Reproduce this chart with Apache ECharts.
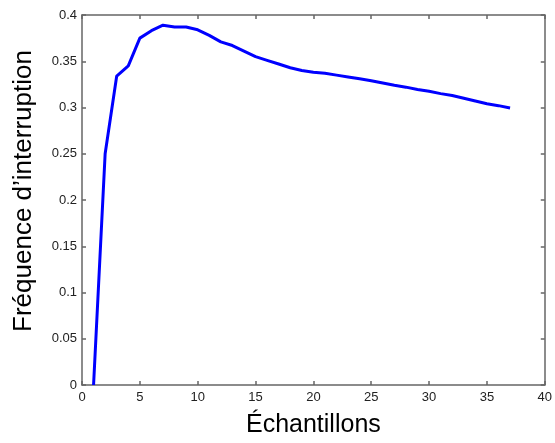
<!DOCTYPE html>
<html>
<head>
<meta charset="utf-8">
<script src="https://cdn.jsdelivr.net/npm/echarts@6/dist/echarts.min.js"></script>
<style>html,body{margin:0;padding:0;background:#fff;}#c{width:555px;height:443px;}</style>
</head>
<body>
<div id="c"></div>
<script>
var samples = [1,2,3,4,5,6,7,8,9,10,11,12,13,14,15,16,17,18,19,20,21,22,23,24,25,26,27,28,29,30,31,32,33,34,35,36,37];
var frequency = [0,0.25,0.334,0.345,0.375,0.383,0.389,0.387,0.387,0.384,0.378,0.371,0.367,0.361,0.355,0.351,0.347,0.343,0.340,0.338,0.337,0.335,0.333,0.331,0.329,0.3265,0.324,0.322,0.3195,0.3175,0.315,0.313,0.310,0.307,0.304,0.302,0.2995];
var xTicks = [0,5,10,15,20,25,30,35,40];
var yTicks = [0,0.05,0.1,0.15,0.2,0.25,0.3,0.35,0.4];
var xTitle = 'Échantillons';
var yTitle = 'Fréquence d\u2019interruption';

var chart = echarts.init(document.getElementById('c'), null, {renderer:'canvas'});
var axisCol = '#666';
var font = 'Liberation Sans, Arial, sans-serif';
function baseAxis(extra){
  return Object.assign({
    axisLine:{show:true, onZero:false, lineStyle:{color:axisCol, width:1.5}},
    axisTick:{show:true, inside:true, length:4, lineStyle:{color:axisCol, width:1.5}},
    splitLine:{show:false}
  }, extra);
}
var pts = samples.map(function(s,i){return [s, frequency[i]];});
chart.setOption({
  animation:false,
  backgroundColor:'#fff',
  grid:{left:82, right:5, top:15, bottom:55, containLabel:false},
  xAxis:[
    baseAxis({type:'value', min:xTicks[0], max:xTicks[xTicks.length-1], interval:5, position:'bottom',
      name:xTitle, nameLocation:'middle', nameGap:28,
      nameTextStyle:{fontFamily:font, fontSize:25, color:'#000'},
      axisLabel:{fontFamily:font, fontSize:13, color:'#222', margin:6}}),
    baseAxis({type:'value', min:xTicks[0], max:xTicks[xTicks.length-1], interval:5, position:'top',
      axisLabel:{show:false}})
  ],
  yAxis:[
    baseAxis({type:'value', min:yTicks[0], max:yTicks[yTicks.length-1], interval:0.05, position:'left',
      name:yTitle, nameLocation:'middle', nameGap:45,
      nameTextStyle:{fontFamily:font, fontSize:26, color:'#000', padding:[0,0,0,18]},
      axisLabel:{fontFamily:font, fontSize:13, color:'#222', margin:5,
        formatter:function(v){return String(parseFloat(v.toFixed(2)));}}}),
    baseAxis({type:'value', min:yTicks[0], max:yTicks[yTicks.length-1], interval:0.05, position:'right',
      axisLabel:{show:false}})
  ],
  series:[{
    type:'line', data:pts, xAxisIndex:0, yAxisIndex:0,
    showSymbol:false, symbol:'none',
    lineStyle:{color:'#0000ff', width:3},
    itemStyle:{color:'#0000ff'}
  }]
});
</script>
</body>
</html>
